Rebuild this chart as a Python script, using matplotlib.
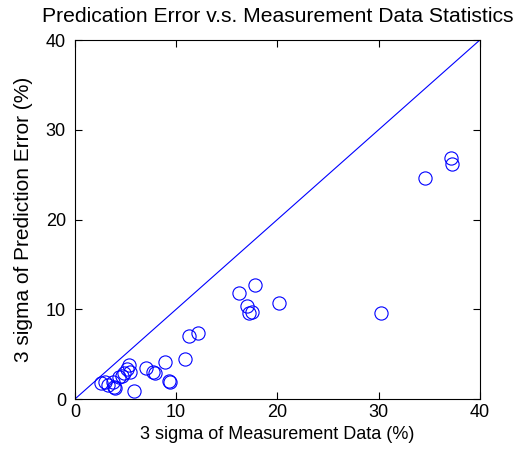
import matplotlib
matplotlib.use("Agg")
import matplotlib.pyplot as plt

plt.rcParams['font.family'] = ['Liberation Sans', 'DejaVu Sans']

meas_sigma = [2.6, 3.0, 3.3, 3.8, 3.9, 4.0, 4.4, 4.6, 4.8, 5.1, 5.3, 5.4, 5.8,
              7.0, 7.7, 7.9, 8.9, 9.3, 9.4, 10.9, 11.3, 12.2,
              16.2, 17.8, 16.95, 17.2, 17.45, 20.2, 30.2,
              34.6, 37.2, 37.3]
pred_sigma = [1.75, 1.85, 1.6, 1.9, 1.3, 1.2, 2.5, 2.6, 2.9, 3.3, 3.8, 3.0, 0.85,
              3.5, 3.0, 2.85, 4.1, 2.0, 1.95, 4.5, 7.05, 7.4,
              11.8, 12.7, 10.35, 9.6, 9.75, 10.65, 9.55,
              24.65, 26.9, 26.15]
ref_line = [0, 40]

fig = plt.figure(figsize=(5.17, 4.59), dpi=100)
ax = fig.add_axes([0.145, 0.1307, 0.783, 0.782])
ax.plot(ref_line, ref_line, color='#0000ff', linewidth=0.8)
ax.plot(meas_sigma, pred_sigma, linestyle='none', marker='o', markersize=9.5,
        markerfacecolor='none', markeredgecolor='#0000ff', markeredgewidth=0.8)
ax.set_xlim(0, 40)
ax.set_ylim(0, 40)
ax.set_xticks([0, 10, 20, 30, 40])
ax.set_yticks([0, 10, 20, 30, 40])
ax.tick_params(direction='in', top=True, right=True, labelsize=13, length=5, width=0.8)
ax.tick_params(axis='y', pad=6.5)
for s in ax.spines.values():
    s.set_linewidth(0.8)
ax.set_xlabel('3 sigma of Measurement Data (%)', fontsize=13, labelpad=4)
ax.set_ylabel('3 sigma of Prediction Error (%)', fontsize=15, labelpad=9)
ax.set_title('Predication Error v.s. Measurement Data Statistics', fontsize=15.2, pad=13)
fig.savefig('out.png', dpi=100)
